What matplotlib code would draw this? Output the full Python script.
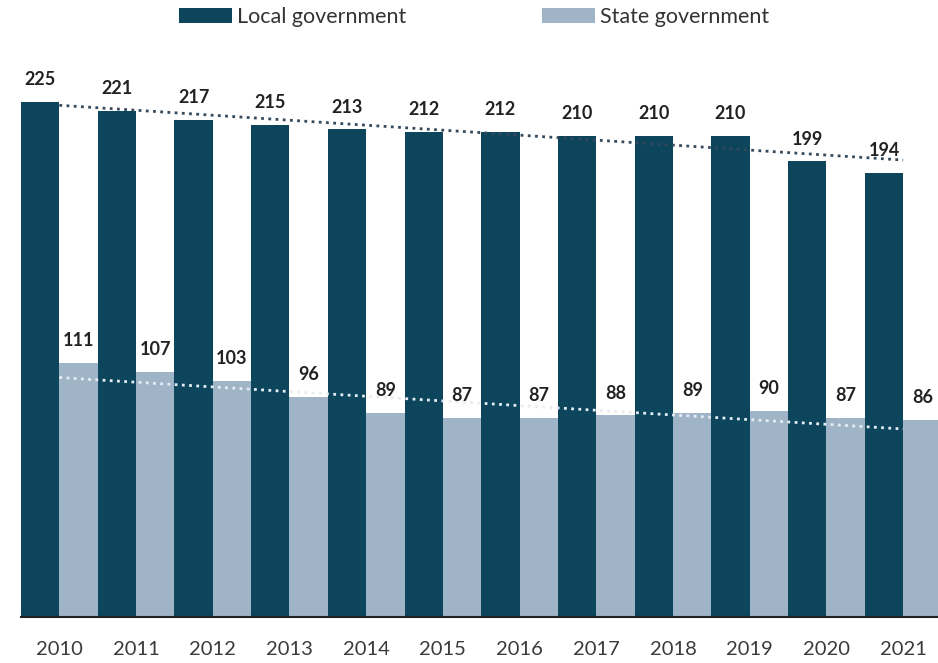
import matplotlib
matplotlib.use("Agg")
import matplotlib.pyplot as plt
import numpy as np

years = ["2010", "2011", "2012", "2013", "2014", "2015",
         "2016", "2017", "2018", "2019", "2020", "2021"]
local_gov = [225, 221, 217, 215, 213, 212, 212, 210, 210, 210, 199, 194]
state_gov = [111, 107, 103, 96, 89, 87, 87, 88, 89, 90, 87, 86]

LOCAL_COLOR = "#0c455c"
STATE_COLOR = "#a0b4c8"

plt.rcParams["font.family"] = ["Lato", "DejaVu Sans"]

W, H = 938, 663
fig = plt.figure(figsize=(W / 100, H / 100), dpi=100)
ax = fig.add_axes([21 / W, 46 / H, 920.5 / W, 572.5 / H])

x = np.arange(len(years))
ax.bar(x - 0.5, local_gov, width=0.5, align="edge", color=LOCAL_COLOR,
       label="Local government", zorder=2)
ax.bar(x, state_gov, width=0.5, align="edge", color=STATE_COLOR,
       label="State government", zorder=2)

# linear trend lines across the category centres
for vals, col in ((local_gov, "#34495b"), (state_gov, "#e6edf4")):
    k, b = np.polyfit(x, vals, 1)
    ax.plot(x, k * x + b, linestyle=(0, (1, 1.6)), color=col, lw=2, zorder=3)

for xi, v in zip(x, local_gov):
    ax.annotate(str(v), (xi - 0.25, v), xytext=(0, 16), textcoords="offset points",
                ha="center", va="center", fontsize=13, fontweight="bold",
                color="#222222")
for xi, v in zip(x, state_gov):
    ax.annotate(str(v), (xi + 0.25, v), xytext=(0, 16), textcoords="offset points",
                ha="center", va="center", fontsize=13, fontweight="bold",
                color="#222222")

ax.set_xlim(-0.5, 11.5)
ax.set_ylim(0, 250)
ax.set_xticks(x)
ax.set_xticklabels(years, fontsize=14.5, color="#3a3a3a")
ax.tick_params(axis="x", length=0, pad=17)
ax.set_yticks([])
for side in ("top", "right", "left"):
    ax.spines[side].set_visible(False)
ax.spines["bottom"].set_color("#222222")
ax.spines["bottom"].set_linewidth(1.5)
ax.spines["bottom"].set_zorder(4)

fig.legend(loc="center", bbox_to_anchor=(0.505, 1 - 17 / H), ncol=2, frameon=False,
           fontsize=15.5, handlelength=2.5, handleheight=0.7, handletextpad=0.2,
           columnspacing=6.3, labelcolor="#333333", borderaxespad=0)

fig.savefig("out.png", dpi=100)
